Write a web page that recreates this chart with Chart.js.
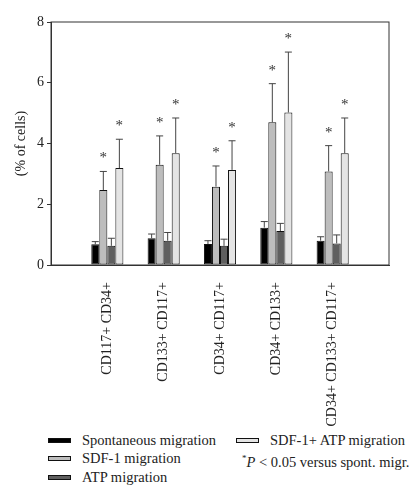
<!DOCTYPE html>
<html lang="en">
<head>
<meta charset="UTF-8">
<title>Migration of cell subsets</title>
<script src="https://cdn.jsdelivr.net/npm/chart.js@4.4.0/dist/chart.umd.min.js"></script>
<style>
  body { margin: 0; background: #fff; }
  #wrap { position: relative; width: 420px; height: 500px; font-family: "Liberation Serif", "DejaVu Serif", serif; color: #222; }
  #chartBox { position: absolute; left: 0; top: 0; width: 420px; height: 430px; }
  .item { position: absolute; font-size: 14.5px; line-height: 18px; white-space: nowrap; }
  .swatch { position: absolute; width: 23px; height: 5px; border: 1px solid #111; box-sizing: border-box; }
</style>
</head>
<body>
<div id="wrap">
  <div id="chartBox"><canvas id="migChart"></canvas></div>
  <div id="legend"></div>
</div>
<script>
// Data
const categories = ['CD117+ CD34+', 'CD133+ CD117+', 'CD34+ CD117+', 'CD34+ CD133+', 'CD34+ CD133+ CD117+'];
const seriesNames = ['Spontaneous migration', 'SDF-1 migration', 'ATP migration', 'SDF-1+ ATP migration'];
const spontaneous = [0.68, 0.88, 0.69, 1.23, 0.80];
const sdf1 = [2.47, 3.30, 2.58, 4.70, 3.08];
const atp = [0.63, 0.80, 0.63, 1.12, 0.71];
const sdf1Atp = [3.19, 3.68, 3.13, 5.02, 3.68];
// upper error bars (SD)
const spontaneousErr = [0.09, 0.14, 0.11, 0.20, 0.13];
const sdf1Err = [0.61, 0.95, 0.68, 1.27, 0.85];
const atpErr = [0.25, 0.27, 0.22, 0.25, 0.28];
const sdf1AtpErr = [0.95, 1.16, 0.96, 1.99, 1.16];
const significant = [false, true, false, true];
const yTicks = [0, 2, 4, 6, 8];

const colors = ['#000000', '#bdbdbd', '#5f5f5f', '#e4e4e4'];
const values = [spontaneous, sdf1, atp, sdf1Atp];
const errors = [spontaneousErr, sdf1Err, atpErr, sdf1AtpErr];
const serif = '"Liberation Serif", "DejaVu Serif", serif';

// empty slot at each end so the groups sit one step in from the frame
const labels = ['', ...categories, ''];
const pad = arr => [null, ...arr, null];

const datasets = seriesNames.map((name, i) => ({
  label: name,
  data: pad(values[i]),
  err: pad(errors[i]),
  backgroundColor: colors[i],
  borderColor: '#111',
  borderWidth: 1,
  borderSkipped: false,
  barPercentage: 1,
  categoryPercentage: 0.57
}));

const extras = {
  id: 'extras',
  afterDatasetsDraw(chart) {
    const { ctx, chartArea: a, scales: { y } } = chart;
    ctx.save();
    chart.data.datasets.forEach((ds, i) => {
      chart.getDatasetMeta(i).data.forEach((bar, j) => {
        const v = ds.data[j];
        if (v == null) return;
        const top = y.getPixelForValue(v + ds.err[j]);
        const half = bar.width / 2 - 0.5;
        ctx.strokeStyle = '#444';
        ctx.lineWidth = 1;
        ctx.beginPath();
        ctx.moveTo(bar.x, bar.y);
        ctx.lineTo(bar.x, top);
        ctx.moveTo(bar.x - half, top);
        ctx.lineTo(bar.x + half, top);
        ctx.stroke();
        if (significant[i]) {
          ctx.fillStyle = '#333';
          ctx.font = '15px ' + serif;
          ctx.textAlign = 'center';
          ctx.textBaseline = 'alphabetic';
          ctx.fillText('*', bar.x, top - 9);
        }
      });
    });
    // frame round the plot
    ctx.strokeStyle = '#333';
    ctx.lineWidth = 1;
    ctx.strokeRect(a.left, a.top, a.right - a.left, a.bottom - a.top);
    ctx.restore();
  }
};

new Chart(document.getElementById('migChart'), {
  type: 'bar',
  data: { labels, datasets },
  options: {
    responsive: true,
    maintainAspectRatio: false,
    animation: false,
    layout: { padding: { top: 22, right: 31, left: 0, bottom: 0 } },
    plugins: { legend: { display: false }, tooltip: { enabled: false } },
    scales: {
      x: {
        offset: false,
        afterFit: s => { s.height = 165; },
        grid: { display: false },
        border: { color: '#333' },
        ticks: {
          autoSkip: false, maxRotation: 90, minRotation: 90, padding: 9,
          color: '#222', font: { family: serif, size: 14 }
        }
      },
      y: {
        min: 0, max: 8,
        afterFit: s => { s.width = 51; },
        afterBuildTicks: s => { s.ticks = yTicks.map(v => ({ value: v })); },
        grid: { drawOnChartArea: false, tickLength: 4, color: '#333' },
        border: { color: '#333' },
        ticks: { padding: 3, color: '#222', font: { family: serif, size: 14 } },
        title: {
          display: true, text: '(% of cells)', color: '#222',
          font: { family: serif, size: 14 }, padding: { top: 13, bottom: 0 }
        }
      }
    }
  },
  plugins: [extras]
});

// legend below the chart, two columns
const legend = document.getElementById('legend');
const slots = [[48, 431], [48, 449], [48, 468], [236, 431]];
seriesNames.forEach((name, i) => {
  const [x, yTop] = slots[i];
  const sw = document.createElement('div');
  sw.className = 'swatch';
  sw.style.left = x + 'px';
  sw.style.top = (yTop + 7) + 'px';
  sw.style.background = colors[i];
  legend.appendChild(sw);
  const t = document.createElement('div');
  t.className = 'item';
  t.style.left = (x + 34) + 'px';
  t.style.top = yTop + 'px';
  t.textContent = name;
  legend.appendChild(t);
});
const note = document.createElement('div');
note.className = 'item';
note.style.left = '242px';
note.style.top = '449px';
note.innerHTML = '<sup style="font-size:9px">*</sup><i>P</i> &lt; 0.05 versus spont. migr.';
legend.appendChild(note);
</script>
</body>
</html>
